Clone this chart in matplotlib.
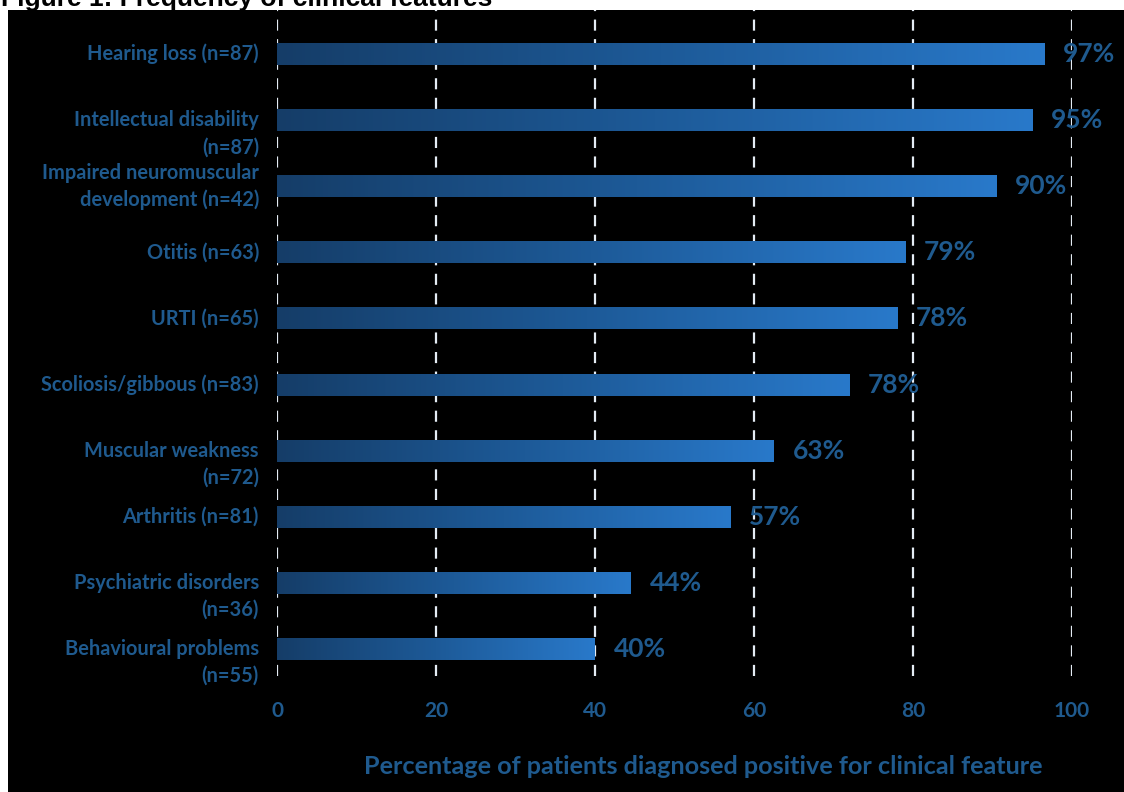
import numpy as np
import matplotlib
matplotlib.use("Agg")
import matplotlib.pyplot as plt
from matplotlib.patches import Rectangle
from matplotlib.colors import LinearSegmentedColormap

# data (top to bottom)
features = [
    "Hearing loss (n=87)",
    "Intellectual disability\n(n=87)",
    "Impaired neuromuscular\ndevelopment (n=42)",
    "Otitis (n=63)",
    "URTI (n=65)",
    "Scoliosis/gibbous (n=83)",
    "Muscular weakness\n(n=72)",
    "Arthritis (n=81)",
    "Psychiatric disorders\n(n=36)",
    "Behavioural problems\n(n=55)",
]
bar_values = [96.5, 95, 90.5, 79, 78, 72, 62.5, 57, 44.5, 40]
pct_labels = ["97%", "95%", "90%", "79%", "78%", "78%", "63%", "57%", "44%", "40%"]
x_ticks = [0, 20, 40, 60, 80, 100]

TEXT = "#1F5A8E"
FONT = "Lato"
W, H = 1124, 792
gradient = LinearSegmentedColormap.from_list("bar", ["#153d68", "#1d5a98", "#2979ca"])

fig = plt.figure(figsize=(W / 100, H / 100), dpi=100, facecolor="white")
fig.patches.append(Rectangle((8 / W, 0), 1, (H - 10) / H, transform=fig.transFigure,
                             facecolor="black", edgecolor="none", zorder=-10))
# the caption is clipped by the top edge in the original too
fig.text(1 / W, 1 - 6 / H, "Figure 1: Frequency of clinical features",
         fontfamily="Liberation Sans", fontweight="bold", fontsize=19,
         va="baseline", ha="left", color="black")

ax = fig.add_axes([277 / W, 1 - 676 / H, (1072 - 277) / W, (676 - 10) / H])
ax.patch.set_visible(False)

y = np.arange(len(features))
h = 0.333
bars = ax.barh(y, bar_values, height=h, color="none", edgecolor="none", zorder=3)
grad = np.linspace(0, 1, 256).reshape(1, -1)
for yi, v, bar in zip(y, bar_values, bars):
    im = ax.imshow(grad, extent=[0, v, yi + h / 2, yi - h / 2], cmap=gradient,
                   aspect="auto", interpolation="bicubic", zorder=3)
    im.set_clip_path(bar)

for xv in x_ticks:
    ax.axvline(xv, color="#e4ecf4", lw=1.6, ls=(0, (5, 3.8)), zorder=2)

ax.set_xlim(0, 100)
ax.set_ylim(len(features) - 1 + 0.41, -0.666)
ax.set_xticks(x_ticks)
ax.set_xticklabels([str(t) for t in x_ticks], fontfamily=FONT, fontweight="bold",
                   fontsize=15, color=TEXT)
ax.tick_params(axis="x", length=0, pad=18)
ax.set_yticks([])
for s in ax.spines.values():
    s.set_visible(False)

# category labels: first line sits on the bar, except where the block is centred
centred = {2}
gap = 19.5
for i, lab in enumerate(features):
    lines = lab.split("\n")
    start = gap / 2 * (len(lines) - 1) if i in centred else 0
    for k, line in enumerate(lines):
        ax.annotate(line, xy=(0, i), xycoords=("axes fraction", "data"),
                    xytext=(-13, start - k * gap), textcoords="offset points",
                    ha="right", va="center", fontfamily=FONT, fontweight="bold",
                    fontsize=14.4, color=TEXT)

for i, (v, lab) in enumerate(zip(bar_values, pct_labels)):
    ax.annotate(lab, xy=(v, i), xytext=(13.5, 0), textcoords="offset points",
                ha="left", va="center", fontfamily=FONT, fontweight="bold",
                fontsize=19, color=TEXT, zorder=4)

fig.text(703 / W, 1 - 766 / H, "Percentage of patients diagnosed positive for clinical feature",
         ha="center", va="center", fontfamily=FONT, fontweight="bold",
         fontsize=18.2, color=TEXT)

fig.savefig("out.png", dpi=100, facecolor=fig.get_facecolor())
